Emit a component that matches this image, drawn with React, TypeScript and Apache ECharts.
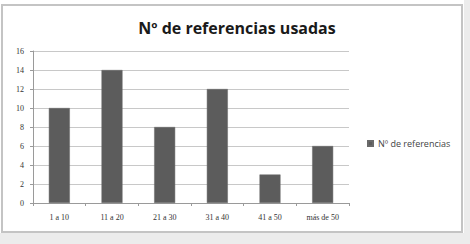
import React, { useEffect, useRef } from "react";
import * as echarts from "echarts";

const categories = ["1 a 10", "11 a 20", "21 a 30", "31 a 40", "41 a 50", "más de 50"];
const referencias = [10, 14, 8, 12, 3, 6];
const seriesName = "Nº de referencias";
const titleText = "Nº de referencias usadas";

export default function App() {
  const ref = useRef<HTMLDivElement>(null);

  useEffect(() => {
    if (!ref.current) return;
    const chart = echarts.init(ref.current, undefined, { renderer: "svg" });
    chart.setOption({
      animation: false,
      backgroundColor: "#ffffff",
      graphic: [
        {
          type: "rect",
          z: -10,
          shape: { x: 2, y: 5, width: 460, height: 227 },
          style: { fill: "#ffffff", stroke: "#c4c4c4", lineWidth: 2 },
        },
        {
          type: "rect",
          z: -11,
          shape: { x: 0, y: 233, width: 470, height: 11 },
          style: { fill: "#ececec" },
        },
        {
          type: "rect",
          z: -11,
          shape: { x: 464, y: 0, width: 6, height: 244 },
          style: { fill: "#ececec" },
        },
      ],
      title: {
        text: titleText,
        left: 232,
        textAlign: "center",
        top: 15,
        textStyle: {
          fontFamily: "Open Sans",
          fontWeight: "bold",
          fontSize: 16,
          color: "#1a1a1a",
        },
      },
      legend: {
        orient: "vertical",
        left: 362,
        top: 134,
        itemWidth: 5,
        itemHeight: 5,
        itemGap: 4,
        icon: "rect",
        textStyle: { fontFamily: "Open Sans", fontSize: 9, color: "#444" },
        data: [seriesName],
      },
      grid: { left: 33, top: 51, right: 121, bottom: 41, containLabel: false },
      xAxis: {
        type: "category",
        data: categories,
        axisLine: { lineStyle: { color: "#9a9a9a", width: 1 } },
        axisTick: { show: true, alignWithLabel: false, length: 3, lineStyle: { color: "#9a9a9a" } },
        axisLabel: {
          fontFamily: "Liberation Serif",
          fontSize: 8,
          color: "#333",
          margin: 10,
        },
      },
      yAxis: {
        type: "value",
        min: 0,
        max: 16,
        interval: 2,
        axisLine: { show: true, lineStyle: { color: "#9a9a9a", width: 1 } },
        axisTick: { show: true, length: 3, lineStyle: { color: "#9a9a9a" } },
        splitLine: { lineStyle: { color: "#c8c8c8", width: 1 } },
        axisLabel: {
          fontFamily: "Liberation Serif",
          fontSize: 8,
          color: "#333",
          margin: 9,
        },
      },
      series: [
        {
          name: seriesName,
          type: "bar",
          data: referencias,
          barWidth: 21,
          itemStyle: { color: "#5c5c5c", borderColor: "#6a6a6a", borderWidth: 0.5 },
        },
      ],
    });
    return () => chart.dispose();
  }, []);

  return (
    <div
      ref={ref}
      style={{ position: "fixed", left: 0, top: 0, width: 470, height: 244 }}
    />
  );
}
